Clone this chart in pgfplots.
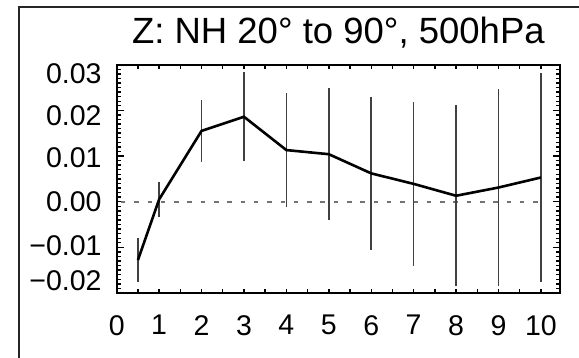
\documentclass[border=0pt]{standalone}
\usepackage{fontspec}
\setmainfont{Liberation Sans}
\usepackage{pgfplots}
\pgfplotsset{compat=1.18}
\begin{document}
\begin{tikzpicture}
\useasboundingbox (-116.7pt,-64pt) rectangle (462.3pt,293pt);
\begin{axis}[
  at={(0pt,0pt)}, anchor=south west,
  scale only axis,
  width=443.3pt, height=228.3pt,
  xmin=0, xmax=10.45,
  ymin=-0.02, ymax=0.03,
  axis line style={line width=2pt, black},
  tick align=inside,
  tick style={black, line width=1.4pt},
  xtick={0,1,2,3,4,5,6,7,8,9,10},
  xticklabels={0,1,2,3,4,5,6,7,8,9,10},
  minor x tick num=1,
  xtick style={/pgfplots/major tick length=4.5pt},
  minor x tick style={/pgfplots/minor tick length=4.5pt},
  ytick={-0.02,-0.01,0,0.01,0.02,0.03},
  yticklabels={
    {\raisebox{12pt}[\height][\depth]{−0.02}},
    {\raisebox{2pt}[\height][\depth]{−0.01}},
    {\raisebox{0pt}[\height][\depth]{0.00}},
    {\raisebox{-2pt}[\height][\depth]{0.01}},
    {\raisebox{-5pt}[\height][\depth]{0.02}},
    {\raisebox{-9pt}[\height][\depth]{0.03}}},
  minor y tick num=9,
  major tick length=7.5pt,
  minor tick length=4pt,
  xticklabel style={font=\fontsize{28.5}{30}\selectfont, inner sep=0pt, anchor=north, yshift=-22pt},
  yticklabel style={font=\fontsize{28.5}{30}\selectfont, inner sep=0pt, anchor=east, xshift=-15pt},
  scaled y ticks=false,
  title={Z: NH 20° to 90°, 500hPa},
  title style={at={(0.5,1)}, anchor=base, yshift=15.7pt, inner sep=0pt, font=\fontsize{36.5}{40}\selectfont},
  clip=false,
]
\addplot[black!55, line width=2.2pt, dash pattern=on 4.5pt off 8.8pt, dash phase=0pt] coordinates {(0.1,0) (10,0)};
\addplot[draw=none, mark=none,
  error bars/.cd, y dir=both, y explicit, error mark=none,
  error bar style={line width=1.6pt, black!75}]
  table[x=x, y=y, y error=e] {
x y e
0.5 -0.0128 0.0048
1 0.0005 0.0039
2 0.0155 0.0068
3 0.0186 0.0097
4 0.0113 0.0125
5 0.0104 0.0145
6 0.0062 0.0168
7 0.0039 0.0179
8 0.0013 0.0198
9 0.0031 0.0216
10 0.0053 0.0228
};
\addplot[black, line width=2.6pt, mark=none] table[x=x, y=y] {
x y
0.5 -0.0128
1 0.0005
2 0.0155
3 0.0186
4 0.0113
5 0.0104
6 0.0062
7 0.0039
8 0.0013
9 0.0031
10 0.0053
};
\end{axis}
\draw[black!85, line width=2.2pt] (-97.7pt,-70pt) -- (-97.7pt,285.7pt) -- (470pt,285.7pt);
\end{tikzpicture}
\end{document}
